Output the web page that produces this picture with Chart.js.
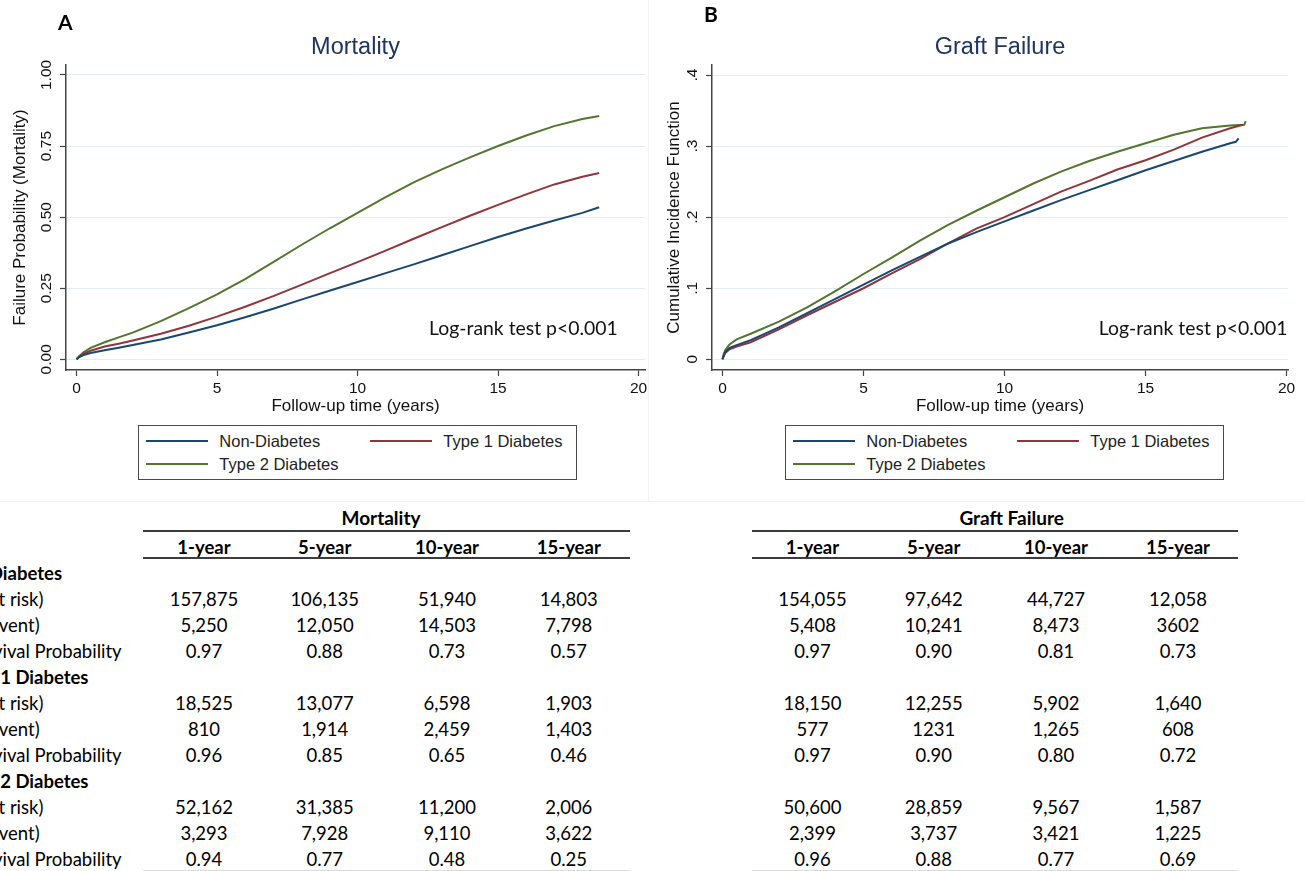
<!DOCTYPE html>
<html><head><meta charset="utf-8">
<script src="https://cdn.jsdelivr.net/npm/chart.js@4.4.1/dist/chart.umd.min.js"></script>
<style>
html,body{margin:0;padding:0;background:#fff;}
body{width:1305px;height:871px;position:relative;overflow:hidden;font-family:'Liberation Sans',Arial,sans-serif;}
.abs{position:absolute;white-space:nowrap;}
.panel{font-family:Lato,sans-serif;font-weight:700;font-size:21px;line-height:24px;color:#000;}
.logrank{font-family:Lato,sans-serif;font-size:19.4px;line-height:22px;color:#111;}
.legbox{position:absolute;border:1.5px solid #4a4a4a;box-sizing:border-box;background:#fff;}
.legline{position:absolute;height:2px;}
.legtext{position:absolute;font-family:'Liberation Sans',Arial,sans-serif;font-size:16.5px;line-height:20px;color:#222;white-space:nowrap;}
.cell{position:absolute;font-family:Lato,sans-serif;font-size:18.5px;line-height:22px;color:#000;white-space:nowrap;transform:translateX(-50%);}
.lab{position:absolute;font-family:Lato,sans-serif;font-size:18.5px;line-height:22px;color:#000;white-space:nowrap;}
.b{font-weight:700;}
.rule{position:absolute;background:#3c3c3c;}
</style></head><body>
<canvas id="chartA" width="660" height="420" style="position:absolute;left:0;top:0;width:660px;height:420px"></canvas>
<canvas id="chartB" width="650" height="420" style="position:absolute;left:655px;top:0;width:650px;height:420px"></canvas>
<div id="overlay"></div>
<script>
// ---------- series ----------
const seriesNames = ['Non-Diabetes', 'Type 1 Diabetes', 'Type 2 Diabetes'];
const seriesColors = ['#1a476f', '#90353b', '#55752f'];

// ---------- axes ----------
const xTicks = [0, 5, 10, 15, 20];
const xTickLabels = ['0', '5', '10', '15', '20'];
const mortYTicks = [0, 0.25, 0.5, 0.75, 1];
const mortYTickLabels = ['0.00', '0.25', '0.50', '0.75', '1.00'];
const graftYTicks = [0, 0.1, 0.2, 0.3, 0.4];
const graftYTickLabels = ['0', '.1', '.2', '.3', '.4'];

// ---------- Panel A: Mortality (failure probability) ----------
const mortTime    = [0, 0.1, 0.25, 0.5, 1, 1.5, 2, 3, 4, 5, 6, 7, 8, 9, 10, 11, 12, 13, 14, 15, 16, 17, 18, 18.6];
const mortNonDiab = [0, 0.008, 0.015, 0.022, 0.032, 0.041, 0.050, 0.070, 0.094, 0.120, 0.148, 0.178, 0.210, 0.241, 0.272, 0.303, 0.334, 0.366, 0.398, 0.430, 0.460, 0.488, 0.515, 0.535];
const mortType1   = [0, 0.010, 0.020, 0.030, 0.045, 0.055, 0.066, 0.090, 0.118, 0.150, 0.185, 0.222, 0.262, 0.302, 0.342, 0.382, 0.424, 0.465, 0.505, 0.543, 0.580, 0.615, 0.642, 0.655];
const mortType2   = [0, 0.012, 0.025, 0.040, 0.060, 0.077, 0.094, 0.134, 0.180, 0.228, 0.282, 0.342, 0.402, 0.460, 0.515, 0.570, 0.622, 0.668, 0.710, 0.750, 0.787, 0.820, 0.845, 0.856];

// ---------- Panel B: Graft failure (cumulative incidence) ----------
const graftTimeNonDiab = [0, 0.05, 0.1, 0.25, 0.5, 1, 2, 3, 4, 5, 6, 7, 8, 9, 10, 11, 12, 13, 14, 15, 16, 17, 18, 18.2, 18.3];
const graftNonDiab     = [0, 0.006, 0.010, 0.016, 0.020, 0.027, 0.045, 0.065, 0.085, 0.105, 0.125, 0.144, 0.163, 0.179, 0.194, 0.209, 0.224, 0.238, 0.252, 0.266, 0.279, 0.292, 0.304, 0.306, 0.311];
const graftTimeType1   = [0, 0.05, 0.1, 0.25, 0.5, 1, 2, 3, 4, 5, 6, 7, 8, 9, 10, 11, 12, 13, 14, 15, 16, 17, 18, 18.45];
const graftType1       = [0, 0.005, 0.009, 0.014, 0.018, 0.024, 0.042, 0.062, 0.081, 0.100, 0.121, 0.141, 0.163, 0.184, 0.200, 0.218, 0.236, 0.251, 0.267, 0.280, 0.295, 0.312, 0.325, 0.330];
const graftTimeType2   = [0, 0.05, 0.1, 0.25, 0.5, 1, 2, 3, 4, 5, 6, 7, 8, 9, 10, 11, 12, 13, 14, 15, 16, 17, 18, 18.5, 18.55];
const graftType2       = [0, 0.008, 0.013, 0.021, 0.028, 0.036, 0.053, 0.073, 0.096, 0.120, 0.143, 0.167, 0.189, 0.209, 0.228, 0.247, 0.264, 0.279, 0.292, 0.304, 0.316, 0.325, 0.329, 0.330, 0.335];

// ---------- Tables ----------
const tableColumns = ['1-year', '5-year', '10-year', '15-year'];
const tableRowLabels = ['N (at risk)', 'N (event)', 'Survival Probability'];
const mortNonDiabRows = [['157,875', '106,135', '51,940', '14,803'], ['5,250', '12,050', '14,503', '7,798'], ['0.97', '0.88', '0.73', '0.57']];
const mortType1Rows   = [['18,525', '13,077', '6,598', '1,903'], ['810', '1,914', '2,459', '1,403'], ['0.96', '0.85', '0.65', '0.46']];
const mortType2Rows   = [['52,162', '31,385', '11,200', '2,006'], ['3,293', '7,928', '9,110', '3,622'], ['0.94', '0.77', '0.48', '0.25']];
const graftNonDiabRows = [['154,055', '97,642', '44,727', '12,058'], ['5,408', '10,241', '8,473', '3602'], ['0.97', '0.90', '0.81', '0.73']];
const graftType1Rows   = [['18,150', '12,255', '5,902', '1,640'], ['577', '1231', '1,265', '608'], ['0.97', '0.90', '0.80', '0.72']];
const graftType2Rows   = [['50,600', '28,859', '9,567', '1,587'], ['2,399', '3,737', '3,421', '1,225'], ['0.96', '0.88', '0.77', '0.69']];

// ---------- chart builder ----------
Chart.defaults.font.family = "'Liberation Sans', Arial, sans-serif";
Chart.defaults.color = '#111';

function toPoints(t, v) { return t.map((x, i) => ({ x: x, y: v[i] })); }

function makeChart(id, cfg) {
  const datasets = cfg.series.map((s, i) => ({
    label: seriesNames[i],
    data: toPoints(s[0], s[1]),
    borderColor: seriesColors[i],
    backgroundColor: seriesColors[i],
    borderWidth: 2,
    pointRadius: 0,
    tension: 0,
    fill: false
  }));
  return new Chart(document.getElementById(id), {
    type: 'line',
    data: { datasets: datasets },
    options: {
      responsive: false,
      devicePixelRatio: 1,
      animation: false,
      layout: { padding: { left: 0, right: cfg.padRight, top: 0, bottom: 0 } },
      plugins: {
        legend: { display: false },
        tooltip: { enabled: false },
        title: {
          display: true, text: cfg.title, fullSize: false,
          color: '#1e3461',
          font: { size: 23.5, weight: 'normal', lineHeight: 1.2 },
          padding: { top: 33.9, bottom: 2.9 }
        }
      },
      scales: {
        x: {
          type: 'linear', min: cfg.xMin, max: cfg.xMax,
          afterFit: (s) => { s.height = 50; },
          afterBuildTicks: (s) => { s.ticks = xTicks.map(v => ({ value: v })); },
          grid: { drawOnChartArea: false, drawTicks: true, tickLength: 6, tickColor: '#444', tickWidth: 1.2 },
          border: { display: true, color: '#444', width: 1.5 },
          ticks: { font: { size: 15.5 }, padding: 3.5, color: '#111', maxRotation: 0, minRotation: 0,
                   callback: (v, i) => xTickLabels[i] },
          title: { display: true, text: 'Follow-up time (years)', font: { size: 17 }, color: '#111',
                   padding: { top: 0, bottom: 3.8 } }
        },
        y: {
          type: 'linear', min: cfg.yMin, max: cfg.yMax,
          afterFit: (s) => { s.width = cfg.yWidth; },
          afterBuildTicks: (s) => { s.ticks = cfg.yTicks.map(v => ({ value: v })); },
          grid: { drawOnChartArea: true, color: '#e4eef1', lineWidth: 1, drawTicks: true, tickLength: 6, tickColor: '#444', tickWidth: 1.2 },
          border: { display: true, color: '#444', width: 1.5 },
          ticks: { font: { size: 15.5 }, padding: cfg.yTickPad, color: '#111', minRotation: 90, maxRotation: 90,
                   crossAlign: 'center', callback: (v, i) => cfg.yTickLabels[i] },
          title: { display: true, text: cfg.yTitle, font: { size: 17 }, color: '#111',
                   padding: { top: cfg.yTitlePad, bottom: 0 } }
        }
      }
    }
  });
}

makeChart('chartA', {
  title: 'Mortality',
  series: [[mortTime, mortNonDiab], [mortTime, mortType1], [mortTime, mortType2]],
  padRight: 15, yWidth: 66,
  xMin: -0.374, xMax: 20.23,
  yMin: -0.0376, yMax: 1.035,
  yTicks: mortYTicks, yTickLabels: mortYTickLabels, yTickPad: -2,
  yTitle: 'Failure Probability (Mortality)', yTitlePad: 9.8
});

makeChart('chartB', {
  title: 'Graft Failure',
  series: [[graftTimeNonDiab, graftNonDiab], [graftTimeType1, graftType1], [graftTimeType2, graftType2]],
  padRight: 17, yWidth: 57,
  xMin: -0.372, xMax: 20.05,
  yMin: -0.01505, yMax: 0.4141,
  yTicks: graftYTicks, yTickLabels: graftYTickLabels, yTickPad: 7,
  yTitle: 'Cumulative Incidence Function', yTitlePad: 8.8
});

// ---------- overlay: panel letters, annotations, legends, tables ----------
const ov = document.getElementById('overlay');
function el(cls, text, css) {
  const d = document.createElement('div');
  d.className = cls;
  if (text !== null) d.textContent = text;
  Object.assign(d.style, css);
  ov.appendChild(d);
  return d;
}

// faint figure-panel borders
el('abs', null, { left: '0px', top: '501px', width: '1305px', height: '1px', background: '#f1f1f1' });
el('abs', null, { left: '648px', top: '0px', width: '1px', height: '501px', background: '#f3f3f3' });

el('abs panel', 'A', { left: '58px', top: '9.5px' });
el('abs panel', 'B', { left: '704px', top: '2px' });

el('abs logrank', 'Log-rank test p<0.001', { left: '429px', top: '317px' });
el('abs logrank', 'Log-rank test p<0.001', { left: '1098.7px', top: '317px' });

function legend(left) {
  el('legbox', null, { left: left + 'px', top: '425px', width: '439px', height: '54.5px' });
  const items = [
    { lx: 7.7, rx: 70, tx: 81, y: 441 },
    { lx: 231.5, rx: 294, tx: 305, y: 441 },
    { lx: 7.7, rx: 70, tx: 81, y: 464 }
  ];
  items.forEach((it, i) => {
    el('legline', null, { left: (left + it.lx) + 'px', top: (it.y - 1) + 'px', width: (it.rx - it.lx) + 'px', background: seriesColors[i] });
    el('legtext', seriesNames[i], { left: (left + it.tx) + 'px', top: (it.y - 10) + 'px' });
  });
}
legend(138.3);
legend(785.3);

function table(cfg) {
  el('cell b', cfg.title, { left: cfg.titleX + 'px', top: (518.3 - 11) + 'px', fontSize: '19px' });
  el('rule', null, { left: cfg.x0 + 'px', top: '529.7px', width: (cfg.x1 - cfg.x0) + 'px', height: '2px' });
  el('rule', null, { left: cfg.x0 + 'px', top: '556.7px', width: (cfg.x1 - cfg.x0) + 'px', height: '2px' });
  el('rule', null, { left: cfg.x0 + 'px', top: '869.5px', width: (cfg.x1 - cfg.x0) + 'px', height: '1px', background: '#dcdcdc' });
  tableColumns.forEach((c, j) => {
    el('cell b', c, { left: cfg.cols[j] + 'px', top: (546.7 - 11) + 'px' });
  });
  cfg.groups.forEach((rows, g) => {
    const gy = 573 + g * 104;
    if (cfg.labels) el('lab b', seriesNames[g], { left: (g === 0 ? -53 : -44) + 'px', top: (gy - 11) + 'px' });
    rows.forEach((vals, r) => {
      const ry = gy + (r + 1) * 26;
      if (cfg.labels) el('lab', tableRowLabels[r], { left: '-34px', top: (ry - 11) + 'px' });
      vals.forEach((v, j) => {
        el('cell', v, { left: cfg.cols[j] + 'px', top: (ry - 11) + 'px' });
      });
    });
  });
}
table({ title: 'Mortality', titleX: 381, x0: 143.3, x1: 630, cols: [204, 324.7, 447, 568.8],
        groups: [mortNonDiabRows, mortType1Rows, mortType2Rows], labels: true });
table({ title: 'Graft Failure', titleX: 1011.7, x0: 751.7, x1: 1238.3, cols: [812.5, 933.7, 1056, 1178],
        groups: [graftNonDiabRows, graftType1Rows, graftType2Rows], labels: false });
</script>
</body></html>
